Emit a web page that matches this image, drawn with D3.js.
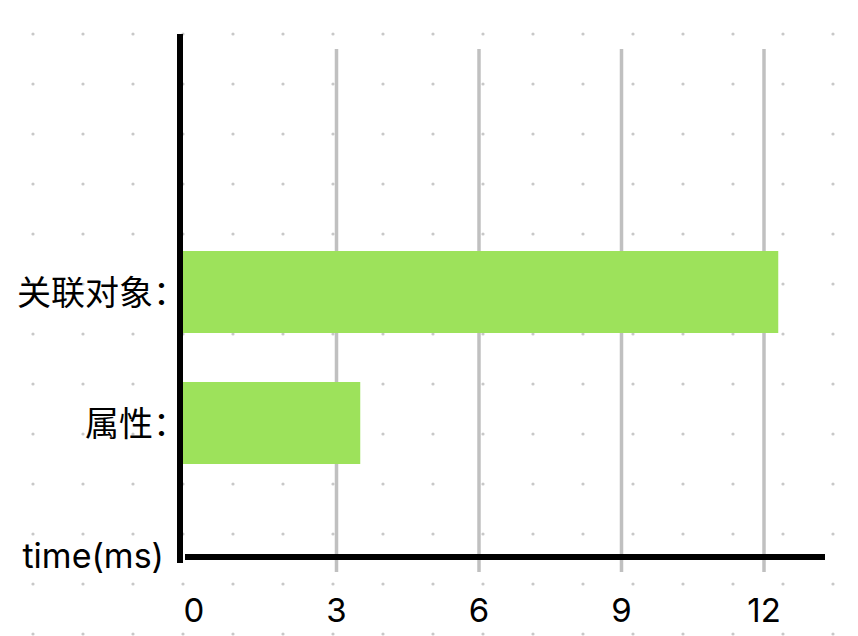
<!DOCTYPE html>
<html>
<head>
<meta charset="utf-8" />
<title>time(ms)</title>
<style type="text/css">
  html, body { margin: 0; background: #fff; }
  svg { display: block; }
  text { font-family: Inter, "Noto Sans CJK SC", sans-serif; fill: #000; }
  .cat { font-size: 34px; font-feature-settings: "halt"; }
  .tick-label { font-size: 33px; }
</style>
<script src="https://cdn.jsdelivr.net/npm/d3@7"></script>
</head>
<body>
<div id="container"></div>
<script>
var categories = ["关联对象：", "属性："];
var values = [12.3, 3.5];
var tickValues = [0, 3, 6, 9, 12];
var axisTitle = "time(ms)";

var width = 858, height = 636;

var svg = d3.select("#container").append("svg")
    .attr("width", width)
    .attr("height", height);

// dotted background
var dots = [];
d3.range(33, width, 50).forEach(function(dx) {
  d3.range(34, height, 50).forEach(function(dy) { dots.push([dx, dy]); });
});
svg.append("g").selectAll("circle")
    .data(dots)
  .enter().append("circle")
    .attr("cx", function(d) { return d[0]; })
    .attr("cy", function(d) { return d[1]; })
    .attr("r", 1.6)
    .attr("fill", "#c8c8c8");

var x = d3.scaleLinear().domain([0, 12]).range([194, 764]);
var y = d3.scaleBand().domain(categories).range([202, 513]).padding(0.374);

var axisX = 180, axisY = 557;

// grid lines
svg.append("g").selectAll("line")
    .data(tickValues.filter(function(t) { return t > 0; }))
  .enter().append("line")
    .attr("x1", x).attr("x2", x)
    .attr("y1", 49).attr("y2", 572)
    .attr("stroke", "#c0c0c0")
    .attr("stroke-width", 3.5);

// bars
svg.append("g").selectAll("rect")
    .data(categories)
  .enter().append("rect")
    .attr("x", axisX + 2)
    .attr("y", function(d) { return y(d); })
    .attr("height", y.bandwidth())
    .attr("width", function(d, i) { return x(values[i]) - axisX - 2; })
    .attr("fill", "#9de25b");

// axis lines
svg.append("line")
    .attr("x1", axisX).attr("x2", axisX)
    .attr("y1", 34).attr("y2", 563)
    .attr("stroke", "#000").attr("stroke-width", 6);
svg.append("line")
    .attr("x1", 185).attr("x2", 825)
    .attr("y1", axisY).attr("y2", axisY)
    .attr("stroke", "#000").attr("stroke-width", 6);

// category labels
svg.append("g").selectAll("text")
    .data(categories)
  .enter().append("text")
    .attr("class", "cat")
    .attr("x", 170)
    .attr("y", function(d) { return y(d) + y.bandwidth() / 2; })
    .attr("dy", "0.38em")
    .attr("text-anchor", "end")
    .text(function(d) { return d; });

// tick labels
svg.append("g").selectAll("text")
    .data(tickValues)
  .enter().append("text")
    .attr("class", "tick-label")
    .attr("x", x)
    .attr("y", 622)
    .attr("text-anchor", "middle")
    .text(function(d) { return d; });

svg.append("text")
    .attr("class", "cat")
    .attr("x", 164)
    .attr("y", 568)
    .attr("text-anchor", "end")
    .text(axisTitle);
</script>
</body>
</html>
